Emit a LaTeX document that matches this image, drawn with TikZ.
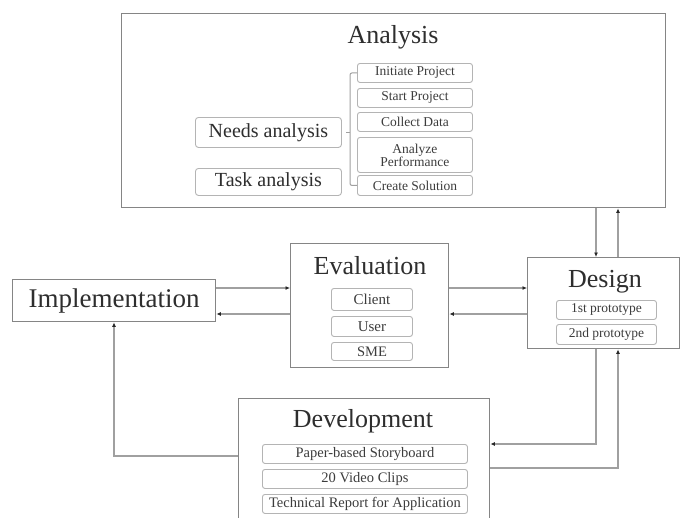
\documentclass[tikz,border=0pt]{standalone}
\usepackage{fontspec}
\setmainfont{Liberation Serif}
\usetikzlibrary{arrows.meta}
\definecolor{boxline}{HTML}{858585}
\definecolor{subline}{HTML}{B4B4B4}
\definecolor{connline}{HTML}{A0A0A0}
\definecolor{titletext}{HTML}{2E2E2E}
\definecolor{subtext}{HTML}{3C3C3C}
\begin{document}
\begin{tikzpicture}[x=1pt,y=-1pt,
  bigbox/.style={draw=boxline,line width=1.4pt,fill=white,anchor=north west,inner sep=0pt},
  titletxt/.style={text=titletext,font=\fontsize{26}{28}\selectfont,inner sep=0pt},
  midbox/.style={draw=subline,line width=0.9pt,rounded corners=3pt,anchor=north west,inner sep=0pt,
    minimum width=146pt,text=titletext,font=\fontsize{20}{22}\selectfont},
  subbox/.style={draw=subline,line width=0.9pt,rounded corners=2.5pt,anchor=north west,inner sep=0pt,
    text=subtext,font=\fontsize{13.5}{15}\selectfont,align=center},
  conn/.style={draw=connline,line width=1.3pt},
  arr/.style={conn,-{Latex[length=4.5pt,width=4pt,color=black!85]}},
  bracestyle/.style={draw=connline,line width=1pt,rounded corners=2pt}
]
\clip (0,0) rectangle (680,517);
\fill[white] (0,0) rectangle (680,517);

% Analysis
\node[bigbox,minimum width=544pt,minimum height=194pt] (ana) at (121,13) {};
\node[titletxt] (anat) at (393,37) {Analysis};
\node[midbox,minimum height=30pt] (needs) at (195,117) {Needs analysis};
\node[midbox,minimum height=27pt] (task) at (195,168) {Task analysis};
\node[subbox,minimum width=115pt,minimum height=19pt] (init) at (357,63) {Initiate Project};
\node[subbox,minimum width=115pt,minimum height=19pt] (start) at (357,88) {Start Project};
\node[subbox,minimum width=115pt,minimum height=19pt] (collect) at (357,112) {Collect Data};
\node[subbox,minimum width=115pt,minimum height=35pt] (perf) at (357,137) {Analyze\\[-2pt]Performance};
\node[subbox,minimum width=115pt,minimum height=20pt] (create) at (357,175) {Create Solution};
\coordinate (bx) at (350,0);
\draw[bracestyle] (init.west) -| (bx |- create.west) -- (create.west);
\draw[bracestyle] (bx |- needs.east) -- ++(-4,0);

% Design
\node[bigbox,minimum width=152pt,minimum height=91pt] (des) at (527,257) {};
\node[titletxt] (dest) at (605,282) {Design};
\node[subbox,minimum width=100pt,minimum height=19pt] (p1) at (556,300) {1st prototype};
\node[subbox,minimum width=100pt,minimum height=20pt] (p2) at (556,324) {2nd prototype};

% Evaluation
\node[bigbox,minimum width=158pt,minimum height=124pt] (eva) at (290,243) {};
\node[titletxt] (evat) at (370,266) {Evaluation};
\node[subbox,minimum width=81pt,minimum height=22pt,font=\fontsize{15}{16}\selectfont] (client) at (331,288) {Client};
\node[subbox,minimum width=81pt,minimum height=20pt,font=\fontsize{15}{16}\selectfont] (user) at (331,316) {User};
\node[subbox,minimum width=81pt,minimum height=18pt,font=\fontsize{14.5}{16}\selectfont] (sme) at (331,342) {SME};

% Implementation
\node[bigbox,minimum width=203pt,minimum height=42pt,text=titletext,font=\fontsize{27}{29}\selectfont] (imp) at (12,279) {Implementation};

% Development
\node[bigbox,minimum width=251pt,minimum height=125pt] (dev) at (238,398) {};
\node[titletxt] (devt) at (363,421) {Development};
\node[subbox,minimum width=205pt,minimum height=19pt,font=\fontsize{14.5}{16}\selectfont] (paper) at (262,444) {Paper-based Storyboard};
\node[subbox,minimum width=205pt,minimum height=19pt,font=\fontsize{14.5}{16}\selectfont] (video) at (262,469) {20 Video Clips};
\node[subbox,minimum width=205pt,minimum height=19pt,font=\fontsize{14.5}{16}\selectfont] (tech) at (262,494) {Technical Report for Application};

% connector guide coordinates
\coordinate (xa) at (596,0);
\coordinate (xb) at (618,0);
\coordinate (xi) at (114,0);
\coordinate (yu) at (0,288);
\coordinate (yl) at (0,314);
\coordinate (yd1) at (0,444);
\coordinate (yd2) at (0,468);
\coordinate (yd3) at (0,456);

% connectors
\draw[arr] (ana.south -| xa) -- (des.north -| xa);
\draw[arr] (des.north -| xb) -- (ana.south -| xb);
\draw[arr] (eva.east |- yu) -- (des.west |- yu);
\draw[arr] (des.west |- yl) -- (eva.east |- yl);
\draw[arr] (imp.east |- yu) -- (eva.west |- yu);
\draw[arr] (eva.west |- yl) -- (imp.east |- yl);
\draw[arr] (des.south -| xa) |- (dev.east |- yd1);
\draw[arr] (dev.east |- yd2) -| (des.south -| xb);
\draw[arr] (dev.west |- yd3) -| (imp.south -| xi);
\end{tikzpicture}
\end{document}
